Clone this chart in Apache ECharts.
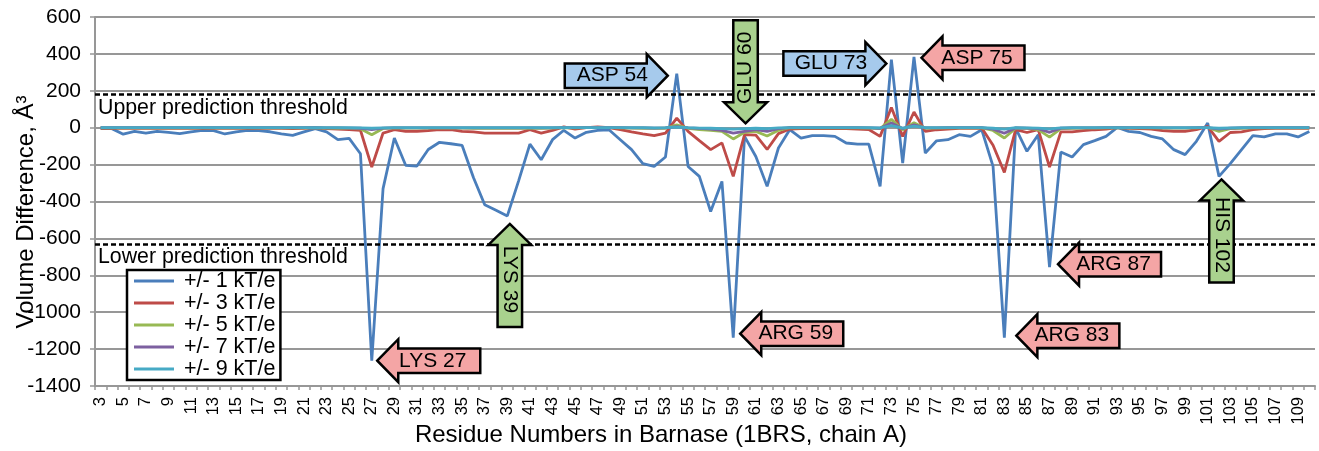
<!DOCTYPE html>
<html><head><meta charset="utf-8">
<script src="https://cdn.jsdelivr.net/npm/echarts@6/dist/echarts.min.js"></script>
<style>html,body{margin:0;padding:0;background:#fff}#c{width:1319px;height:451px}</style>
</head><body><div id="c"></div>
<script>
// ---------- data ----------
const residues = [3,4,5,6,7,8,9,10,11,12,13,14,15,16,17,18,19,20,21,22,23,24,25,26,27,28,29,30,31,32,33,34,35,36,37,38,39,40,41,42,43,44,45,46,47,48,49,50,51,52,53,54,55,56,57,58,59,60,61,62,63,64,65,66,67,68,69,70,71,72,73,74,75,76,77,78,79,80,81,82,83,84,85,86,87,88,89,90,91,92,93,94,95,96,97,98,99,100,101,102,103,104,105,106,107,108,109,110];
const seriesNames = ['+/- 1 kT/e','+/- 3 kT/e','+/- 5 kT/e','+/- 7 kT/e','+/- 9 kT/e'];
const kT1 = [-5,-5,-35,-20,-29,-20,-25,-32,-23,-14,
  -16,-34,-23,-14,-16,-22,-34,-42,-23,-5,
  -23,-65,-58,-141,-1263,-330,-56,-204,-208,-118,
  -79,-87,-96,-270,-418,-447,-478,-288,-89,-174,
  -65,-14,-56,-25,-14,-11,-65,-119,-195,-210,
  -159,293,-210,-264,-454,-291,-1138,-47,-156,-318,
  -110,-11,-56,-43,-43,-47,-83,-89,-89,-318,
  369,-192,384,-137,-71,-65,-38,-47,-11,-210,
  -1138,-2,-128,-38,-756,-132,-159,-92,-70,-47,
  2,-20,-26,-47,-61,-119,-146,-74,25,-264,
  -195,-119,-43,-50,-33,-33,-50,-20];
const kT3 = [-3,-3,-3,-3,-3,-3,-3,-3,-3,-3,
  -3,-3,-3,-3,-3,-3,-3,-5,-3,0,
  -5,-8,-10,-14,-213,-29,-11,-20,-20,-16,
  -11,-11,-20,-23,-29,-29,-29,-29,-11,-29,
  -14,4,-8,0,4,0,-11,-23,-34,-43,
  -29,52,-20,-70,-119,-82,-264,-38,-40,-118,
  -32,-7,-5,-5,-5,-5,-5,-8,-10,-47,
  110,-47,85,-20,-11,-8,-3,-3,-2,-95,
  -242,-11,-26,-10,-213,-23,-23,-16,-11,-8,
  0,-3,-5,-8,-16,-20,-20,-11,7,-74,
  -26,-23,-11,-5,-3,-3,-3,-3];
const kT5 = [-1,-1,-1,-1,-1,-1,-1,-1,-1,-1,
  -1,-1,-1,-1,-1,-1,-1,-1,-1,-1,
  -2,-3,-4,-6,-38,-4,-2,-2,-2,-2,
  -2,-2,-2,-3,-3,-3,-3,-3,-2,-3,
  -2,0,-1,0,0,0,-1,-2,-3,-4,
  -3,15,-3,-10,-15,-20,-61,-25,-20,-45,
  -14,0,-1,-1,-1,-1,-1,-1,-2,-5,
  45,-11,27,-3,-2,-1,-1,-1,-1,-15,
  -56,-3,-4,-10,-51,-5,-3,-2,-2,-1,
  0,-1,-1,-1,-2,-2,-2,-1,2,-20,
  -5,-3,-1,-1,-1,-1,-1,-1];
const kT7 = [0,0,0,0,0,0,0,0,0,0,
  0,0,0,0,0,0,0,0,0,0,
  -1,-1,-2,-3,-10,-2,-1,-1,-1,-1,
  -1,-1,-1,-1,-1,-1,-1,-1,-1,-1,
  -1,0,0,0,0,0,0,-1,-1,-2,
  -1,6,-1,-4,-8,-14,-29,-20,-11,-20,
  -5,0,0,0,0,0,0,0,-1,-3,
  25,-5,16,-1,-1,0,0,0,0,-8,
  -30,-1,-2,-5,-25,-2,-1,-1,-1,0,
  0,0,0,0,-1,-1,-1,0,1,-8,
  -2,-1,0,0,0,0,0,0];
const kT9 = [0,0,0,0,0,0,0,0,0,0,
  0,0,0,0,0,0,0,0,0,0,
  0,0,0,-1,-3,-1,0,0,0,0,
  0,0,0,0,0,0,0,0,0,0,
  0,0,0,0,0,0,0,0,0,-1,
  0,3,0,-2,-3,-5,-8,-5,-3,-5,
  -1,0,0,0,0,0,0,0,0,-1,
  11,-2,8,0,0,0,0,0,0,-3,
  -8,0,-1,-2,-6,-1,0,0,0,0,
  0,0,0,0,0,0,0,0,0,-3,
  -1,0,0,0,0,0,0,0];
const thresholdValues = [180, -630];
const thresholdLabels = ['Upper prediction threshold', 'Lower prediction threshold'];
const yTicks = {min: -1400, max: 600, step: 200};
const annotLabels = ['LYS 27','LYS 39','ASP 54','ARG 59','GLU 60','GLU 73','ASP 75','ARG 83','ARG 87','HIS 102'];
const annotResidues = [27,39,54,59,60,73,75,83,87,102];

// ---------- styles / layout ----------
const FONT = '"Liberation Sans", Arial, Helvetica, sans-serif';
const lineColors = ['#4A7EBB','#BE4B48','#98B954','#7D60A0','#46AAC5'];
const fills = {pink:'#F4A5A5', blue:'#A6CAEC', green:'#A9D18E'};
const annotStyle = {
  'LYS 27': {dir:'left', fill:'pink', dx:5.5, dy:0},
  'LYS 39': {dir:'up', fill:'green', dx:2.5, dy:8},
  'ASP 54': {dir:'right', fill:'blue', dx:-9, dy:2},
  'ARG 59': {dir:'left', fill:'pink', dx:7, dy:-4},
  'GLU 60': {dir:'down', fill:'green', dx:1, dy:-13},
  'GLU 73': {dir:'right', fill:'blue', dx:-5, dy:4},
  'ASP 75': {dir:'left', fill:'pink', dx:7.5, dy:1},
  'ARG 83': {dir:'left', fill:'pink', dx:12, dy:-2},
  'ARG 87': {dir:'left', fill:'pink', dx:8.5, dy:-3},
  'HIS 102': {dir:'up', fill:'green', dx:2.5, dy:3}
};
const ARROW = {headLen:21, headW:43, bodyW:24.5, bodyLen:82, textShift:6.5};
const gridGray = '#979797';

const chart = echarts.init(document.getElementById('c'), null, {renderer:'canvas'});
const seriesData = [kT1, kT3, kT5, kT7, kT9];

const series = seriesData.map((d, i) => ({
  name: seriesNames[i],
  type: 'line',
  data: d,
  symbol: 'none',
  showSymbol: false,
  lineStyle: {color: lineColors[i], width: 2.8},
  itemStyle: {color: lineColors[i]},
  emphasis: {disabled: true},
  z: 2 + i
}));
series[0].markLine = {
  silent: true,
  symbol: 'none',
  animation: false,
  lineStyle: {color: '#000', type: [5, 3], width: 2.5},
  label: {
    show: true, position: 'insideStartBottom', distance: [3, 3],
    fontSize: 21.3, fontFamily: FONT, color: '#000'
  },
  emphasis: {disabled: true},
  data: thresholdValues.map((v, i) => ({yAxis: v, label: {formatter: thresholdLabels[i]}}))
};

const option = {
  animation: false,
  backgroundColor: '#fff',
  textStyle: {fontFamily: FONT},
  grid: {left: 95, right: 4, top: 17, bottom: 65, containLabel: false, outerBoundsMode: 'none'},
  legend: {
    data: seriesNames,
    orient: 'vertical',
    left: 127, top: 270,
    backgroundColor: '#fff',
    borderColor: '#000', borderWidth: 2.5, borderRadius: 0,
    padding: [0, 5, 0, 7],
    itemWidth: 40, itemHeight: 3, itemGap: 0,
    icon: 'rect',
    textStyle: {fontSize: 21.5, color: '#000', fontFamily: FONT, padding: [0, 0, 0, 5], lineHeight: 21.5},
    selectedMode: false
  },
  xAxis: {
    type: 'category',
    data: residues.map(String),
    boundaryGap: true,
    axisLine: {onZero: false, lineStyle: {color: gridGray, width: 2}},
    axisTick: {show: true, interval: 0, length: 4, lineStyle: {color: gridGray, width: 1.5}},
    axisLabel: {interval: 1, rotate: 90, fontSize: 16.5, color: '#000', fontFamily: FONT, margin: 11},
    splitLine: {show: false}
  },
  yAxis: {
    type: 'value',
    min: yTicks.min, max: yTicks.max, interval: yTicks.step,
    axisLine: {show: true, lineStyle: {color: gridGray, width: 2}},
    axisTick: {show: true, length: 5, lineStyle: {color: gridGray, width: 1.5}},
    axisLabel: {fontSize: 21, color: '#000', fontFamily: FONT, margin: 14, formatter: v => String(v)},
    splitLine: {show: true, lineStyle: {color: gridGray, width: 2}}
  },
  series: series
};
chart.setOption(option);

// ---------- annotations (block arrows anchored to data points) ----------
function arrowShape(tx, ty, dir) {
  const {headLen: h, headW: hw, bodyW: bw, bodyLen: bl} = ARROW;
  let pts;
  if (dir === 'left') {
    pts = [[0,0],[h,-hw/2],[h,-bw/2],[h+bl,-bw/2],[h+bl,bw/2],[h,bw/2],[h,hw/2]];
  } else if (dir === 'right') {
    pts = [[0,0],[-h,-hw/2],[-h,-bw/2],[-h-bl,-bw/2],[-h-bl,bw/2],[-h,bw/2],[-h,hw/2]];
  } else if (dir === 'up') {
    pts = [[0,0],[hw/2,h],[bw/2,h],[bw/2,h+bl],[-bw/2,h+bl],[-bw/2,h],[-hw/2,h]];
  } else {
    pts = [[0,0],[hw/2,-h],[bw/2,-h],[bw/2,-h-bl],[-bw/2,-h-bl],[-bw/2,-h],[-hw/2,-h]];
  }
  return pts.map(p => [tx + p[0], ty + p[1]]);
}
const graphics = [];
annotLabels.forEach((lab, i) => {
  const st = annotStyle[lab];
  const idx = residues.indexOf(annotResidues[i]);
  const px = chart.convertToPixel({xAxisIndex: 0, yAxisIndex: 0}, [idx, kT1[idx]]);
  const tx = px[0] + st.dx, ty = px[1] + st.dy;
  graphics.push({
    type: 'polygon', z: 100,
    shape: {points: arrowShape(tx, ty, st.dir)},
    style: {fill: fills[st.fill], stroke: '#000', lineWidth: 2.5, lineJoin: 'miter'}
  });
  const c = ARROW.headLen + ARROW.bodyLen / 2 - ARROW.textShift;
  let cx = tx, cy = ty, rot = 0;
  if (st.dir === 'left') cx = tx + c;
  else if (st.dir === 'right') cx = tx - c;
  else if (st.dir === 'up') { cy = ty + c; rot = -Math.PI / 2; }
  else { cy = ty - c; rot = Math.PI / 2; }
  graphics.push({
    type: 'text', z: 101,
    x: cx, y: cy, rotation: rot,
    style: {text: lab, fill: '#000', font: '21px ' + FONT, align: 'center', verticalAlign: 'middle'}
  });
});
// axis titles
graphics.push({
  type: 'text', z: 50, x: 26.6, y: 212, rotation: Math.PI / 2,
  style: {text: 'Volume Difference, Å³', fill: '#000', font: '24px ' + FONT, align: 'center', verticalAlign: 'middle'}
});
graphics.push({
  type: 'text', z: 50, x: 661, y: 435,
  style: {text: 'Residue Numbers in Barnase (1BRS, chain A)', fill: '#000', font: '24px ' + FONT, align: 'center', verticalAlign: 'middle'}
});
chart.setOption({graphic: graphics});
</script>
</body></html>
